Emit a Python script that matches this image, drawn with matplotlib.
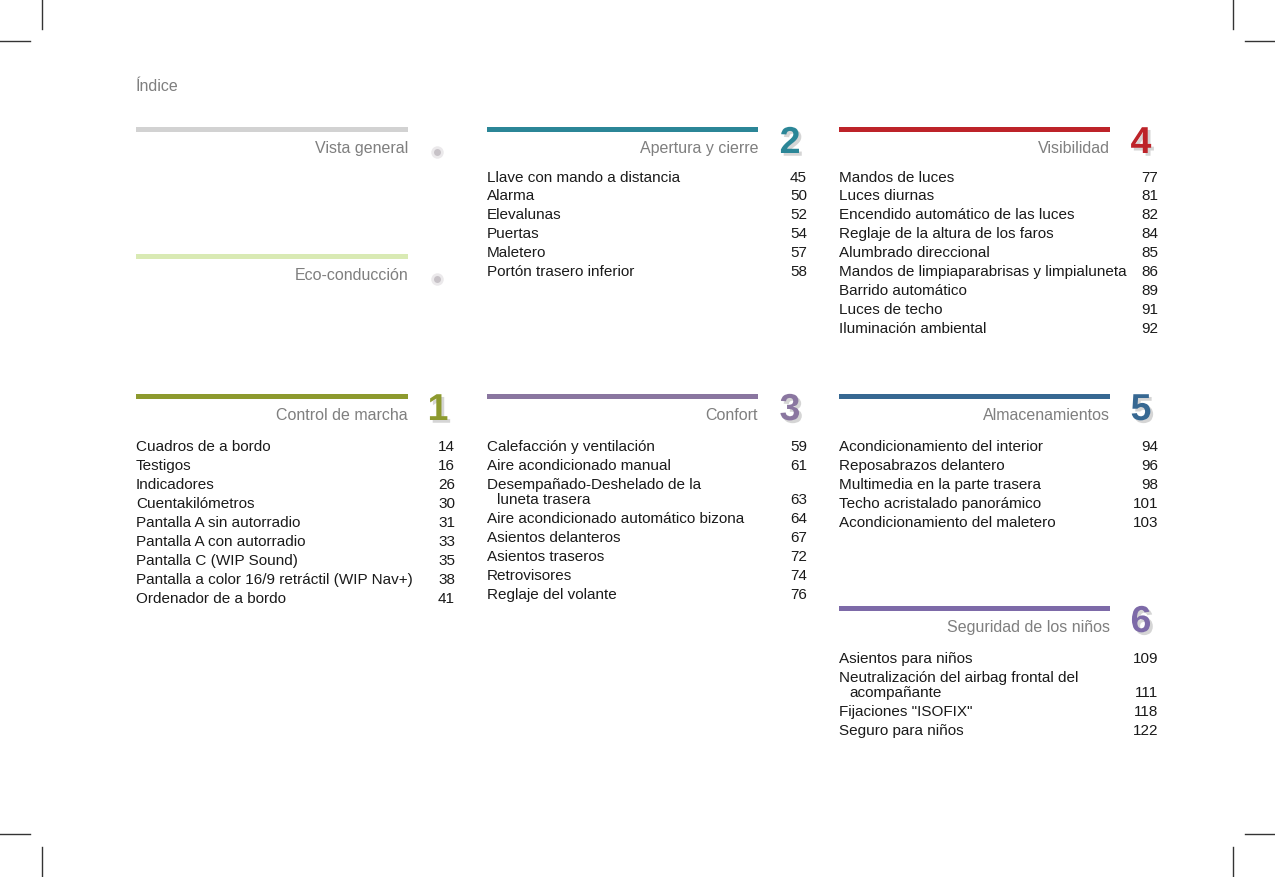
import matplotlib.pyplot as plt
import matplotlib.patheffects as pe
from matplotlib.patches import Rectangle

plt.rcParams['font.family'] = ['Liberation Sans', 'DejaVu Sans']

# --- page content ---------------------------------------------------------
page_title = "Índice"

vista_title = "Vista general"
eco_title = "Eco-conducción"

marcha_title = "Control de marcha"
marcha_items = ["Cuadros de a bordo", "Testigos", "Indicadores", "Cuentakilómetros",
                "Pantalla A sin autorradio", "Pantalla A con autorradio",
                "Pantalla C (WIP Sound)", "Pantalla a color 16/9 retráctil (WIP Nav+)",
                "Ordenador de a bordo"]
marcha_pages = ["14", "16", "26", "30", "31", "33", "35", "38", "41"]

apertura_title = "Apertura y cierre"
apertura_items = ["Llave con mando a distancia", "Alarma", "Elevalunas", "Puertas",
                  "Maletero", "Portón trasero inferior"]
apertura_pages = ["45", "50", "52", "54", "57", "58"]

confort_title = "Confort"
confort_items = ["Calefacción y ventilación", "Aire acondicionado manual",
                 "Desempañado-Deshelado de la\nluneta trasera",
                 "Aire acondicionado automático bizona", "Asientos delanteros",
                 "Asientos traseros", "Retrovisores", "Reglaje del volante"]
confort_pages = ["59", "61", "63", "64", "67", "72", "74", "76"]

visib_title = "Visibilidad"
visib_items = ["Mandos de luces", "Luces diurnas", "Encendido automático de las luces",
               "Reglaje de la altura de los faros", "Alumbrado direccional",
               "Mandos de limpiaparabrisas y limpialuneta", "Barrido automático",
               "Luces de techo", "Iluminación ambiental"]
visib_pages = ["77", "81", "82", "84", "85", "86", "89", "91", "92"]

almac_title = "Almacenamientos"
almac_items = ["Acondicionamiento del interior", "Reposabrazos delantero",
               "Multimedia en la parte trasera", "Techo acristalado panorámico",
               "Acondicionamiento del maletero"]
almac_pages = ["94", "96", "98", "101", "103"]

ninos_title = "Seguridad de los niños"
ninos_items = ["Asientos para niños",
               "Neutralización del airbag frontal del\nacompañante",
               "Fijaciones \"ISOFIX\"", "Seguro para niños"]
ninos_pages = ["109", "111", "118", "122"]

# --- layout ---------------------------------------------------------------
col_left = [136, 487, 839]
bar_right = [408, 758, 1110]
page_right = [455, 807, 1158]
num_x = [437, 789, 1140]

sections = [
    # col, bar y, first entry y, title, number, colour, items, pages
    (0, 130, 176, vista_title, None, "#d2d2d2", [], []),
    (0, 257, 303, eco_title, None, "#d9eab4", [], []),
    (0, 397, 446, marcha_title, "1", "#8d9a2e", marcha_items, marcha_pages),
    (1, 130, 176, apertura_title, "2", "#2b8697", apertura_items, apertura_pages),
    (1, 397, 446, confort_title, "3", "#8a76a0", confort_items, confort_pages),
    (2, 130, 176, visib_title, "4", "#bd2329", visib_items, visib_pages),
    (2, 397, 446, almac_title, "5", "#376892", almac_items, almac_pages),
    (2, 609, 658, ninos_title, "6", "#7d6aa8", ninos_items, ninos_pages),
]

W, H = 1275, 878
fig = plt.figure(figsize=(W / 100, H / 100), dpi=100)
ax = fig.add_axes([0, 0, 1, 1])
ax.set_xlim(0, W)
ax.set_ylim(H, 0)
ax.axis("off")

text_col = "#1a1a1a"
grey = "#7f7f7f"

ax.text(136, 85, page_title, fontsize=11.5, color=grey, va="center_baseline")

for col, by, ey, title, num, bcol, items, pages in sections:
    x0 = col_left[col]
    ax.add_patch(Rectangle((x0, by - 2.5), bar_right[col] - x0, 5, color=bcol, lw=0))
    ax.text(bar_right[col], by + 17, title, fontsize=11.5, color=grey,
            ha="right", va="center_baseline")
    if num is None:
        # faint blurred placeholder mark
        ax.plot(num_x[col], by + 23, marker="o", ms=9, color="#d8d4d8",
                mec="none", alpha=0.5)
        ax.plot(num_x[col], by + 23, marker="o", ms=5, color="#b8b2b8",
                mec="none", alpha=0.7)
    else:
        ax.text(num_x[col] + 1, by + 14, num, fontsize=27, fontweight="bold",
                color=bcol, ha="center", va="center",
                path_effects=[pe.withSimplePatchShadow(offset=(2, -2),
                                                       shadow_rgbFace="#777777",
                                                       alpha=0.3)])
    y = ey
    for item, page in zip(items, pages):
        lines = item.split("\n")
        for i, line in enumerate(lines):
            ax.text(x0 + (10 if i else 0), y, line, fontsize=11, color=text_col,
                    va="center_baseline")
            if i < len(lines) - 1:
                y += 15
        ax.text(page_right[col], y, page, fontsize=11, color=text_col,
                ha="right", va="center_baseline")
        y += 19

# crop marks
mk = dict(color="#333333", lw=1)
ax.plot([42, 42], [0, 30], **mk)
ax.plot([0, 30], [42, 42], **mk)
ax.plot([1233, 1233], [0, 30], **mk)
ax.plot([1245, 1275], [42, 42], **mk)
ax.plot([42, 42], [848, 878], **mk)
ax.plot([0, 30], [835, 835], **mk)
ax.plot([1233, 1233], [848, 878], **mk)
ax.plot([1245, 1275], [835, 835], **mk)

fig.savefig("out.png", dpi=100)
